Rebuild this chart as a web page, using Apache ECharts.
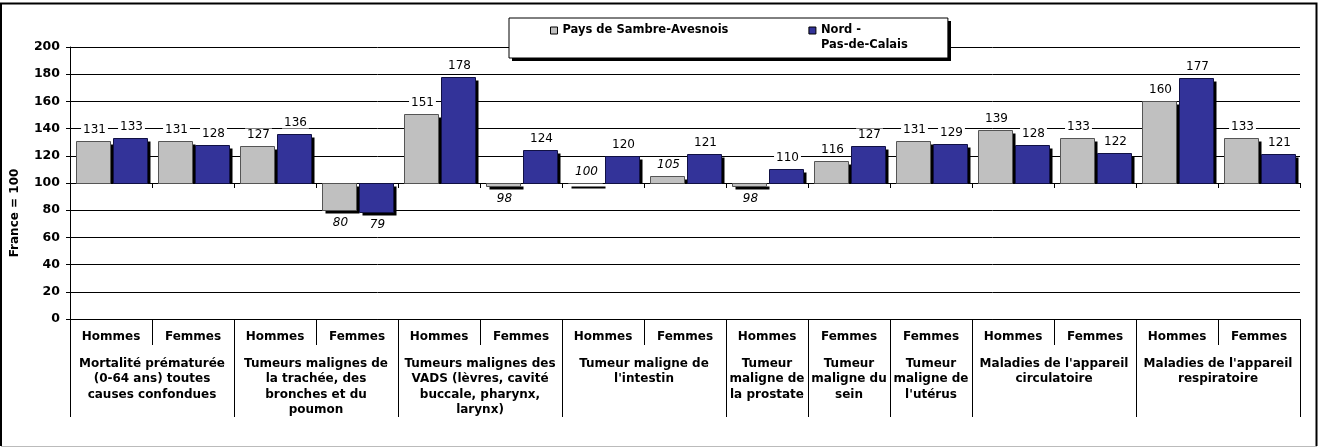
<!DOCTYPE html>
<html>
<head>
<meta charset="utf-8">
<script src="https://cdn.jsdelivr.net/npm/echarts@6/dist/echarts.min.js"></script>
<style>
html,body{margin:0;padding:0;background:#fff;}
#chart{width:1319px;height:448px;}
</style>
</head>
<body>
<div id="chart"></div>
<script>
// ---- data ----
const slotLabels = ['Hommes','Femmes','Hommes','Femmes','Hommes','Femmes','Hommes','Femmes','Hommes','Femmes','Femmes','Hommes','Femmes','Hommes','Femmes'];
const groupLabels = [
  'Mortalité prématurée\n(0-64 ans) toutes\ncauses confondues',
  'Tumeurs malignes de\nla trachée, des\nbronches et du\npoumon',
  'Tumeurs malignes des\nVADS (lèvres, cavité\nbuccale, pharynx,\nlarynx)',
  'Tumeur maligne de\nl\'intestin',
  'Tumeur\nmaligne de\nla prostate',
  'Tumeur\nmaligne du\nsein',
  'Tumeur\nmaligne de\nl\'utérus',
  'Maladies de l\'appareil\ncirculatoire',
  'Maladies de l\'appareil\nrespiratoire'
];
const groupSizes = [2,2,2,2,1,1,1,2,2];
const seriesNames = ['Pays de Sambre-Avesnois','Nord - Pas-de-Calais'];
const legendLabels = ['Pays de Sambre-Avesnois','Nord -\nPas-de-Calais'];
const paysValues = [131,131,127,80,151,98,100,105,98,116,131,139,133,160,133];
const npdcValues = [133,128,136,79,178,124,120,121,110,127,129,128,122,177,121];
const paysNonSignif = [0,0,0,1,0,1,1,1,1,0,0,0,0,0,0];
const npdcNonSignif = [0,0,0,1,0,0,0,0,0,0,0,0,0,0,0];
const yMin = 0, yMax = 200, yStep = 20;
const baseline = 100;
const yTitle = 'France = 100';

// ---- derived layout helpers ----
const groupBounds = [0];
groupSizes.forEach(s => groupBounds.push(groupBounds[groupBounds.length-1] + s));
const groupCenters = groupSizes.map((s,i) => groupBounds[i] + s/2);

const FONT = '"DejaVu Sans", Verdana, sans-serif';
const GREY = '#C0C0C0', BLUE = '#333399';

function makeRender(offsetFrac, color, stroke, values, italics) {
  return function (params, api) {
    const i = api.value(0), v = api.value(1);
    const band = api.size([1, 0])[0];
    const c = api.coord([i, baseline]);
    const e = api.coord([i, v]);
    const w = Math.round(band * 34 / 82);
    const x = Math.round(c[0] + band * offsetFrac) + 0.5;
    const y0 = Math.round(c[1]) + 0.5, y1 = Math.round(e[1]) + 0.5;
    const top = Math.min(y0, y1), h = Math.abs(y1 - y0);
    const up = values[params.dataIndex] >= baseline;
    const italic = italics[params.dataIndex];
    const shadow = up
      ? {x: x + 3, y: top + 3, width: w, height: Math.max(h - 3, 0) + (h === 0 ? 2 : 0)}
      : {x: x + 3, y: top + 3, width: w, height: h};
    return {
      type: 'group',
      children: [
        {type: 'rect', shape: shadow, style: {fill: '#000'}},
        {type: 'rect', shape: {x: x, y: top, width: w, height: h}, style: {fill: color, stroke: stroke, lineWidth: 1}},
        {type: 'text', z2: 10, style: {
          text: String(values[params.dataIndex]),
          x: x + w / 2 + 1, y: up ? top - 12 : top + h + 12,
          align: 'center', verticalAlign: 'middle',
          font: (italic ? 'italic ' : '') + '12px ' + FONT,
          fill: '#000', backgroundColor: '#fff', padding: [0, 2]
        }}
      ]
    };
  };
}

const chart = echarts.init(document.getElementById('chart'), null, {renderer: 'canvas'});
const gridPos = {left: 70, right: 19, top: 47, bottom: 129};
const option = {
  animation: false,
  backgroundColor: '#fff',
  grid: [
    Object.assign({}, gridPos),
    Object.assign({}, gridPos),
    {left: 70, right: 19, top: 47, height: 136}
  ],
  legend: {
    z: 10,
    data: seriesNames,
    formatter: n => {
      const t = legendLabels[seriesNames.indexOf(n)];
      return t.indexOf('\n') >= 0 ? t : t + '\n\u00a0';
    },
    left: 509, top: 18,
    padding: [5, 40, 5, 41],
    itemGap: 80, itemWidth: 7, itemHeight: 22,
    icon: 'path://M0,0H7V7H0Z M7,22',
    itemStyle: {borderColor: '#000', borderWidth: 1, shadowBlur: 0, shadowOffsetX: 0, shadowOffsetY: 0, shadowColor: 'transparent'},
    textStyle: {fontFamily: FONT, fontWeight: 'bold', fontSize: 11.5, color: '#000', lineHeight: 15},
    backgroundColor: '#fff', borderColor: '#000', borderWidth: 1,
    selectedMode: false
  },
  xAxis: [
    {
      gridIndex: 0, type: 'category', data: slotLabels, position: 'bottom',
      axisLine: {onZero: false, lineStyle: {color: '#000', width: 1}},
      axisTick: {show: true, interval: 0, length: 26, lineStyle: {color: '#000'}},
      axisLabel: {interval: 0, margin: 12, fontFamily: FONT, fontWeight: 'bold', fontSize: 12, color: '#000'},
      splitLine: {show: false}
    },
    {
      gridIndex: 1, type: 'value', min: 0, max: groupBounds[groupBounds.length-1], position: 'bottom',
      axisLine: {show: false, onZero: false},
      axisTick: {show: true, customValues: groupBounds, length: 98, lineStyle: {color: '#000'}},
      axisLabel: {
        show: true, customValues: groupCenters, margin: 37,
        formatter: v => { const k = groupCenters.indexOf(v); return k >= 0 ? groupLabels[k] : ''; },
        fontFamily: FONT, fontWeight: 'bold', fontSize: 12, color: '#000', lineHeight: 15.5, align: 'center'
      },
      splitLine: {show: false}
    },
    {
      gridIndex: 2, type: 'category', data: slotLabels, position: 'bottom',
      axisLine: {onZero: false, lineStyle: {color: '#000', width: 1}},
      axisTick: {show: true, interval: 0, length: 5, lineStyle: {color: '#000'}},
      axisLabel: {show: false},
      splitLine: {show: false}
    }
  ],
  yAxis: [
    {
      gridIndex: 0, type: 'value', min: yMin, max: yMax, interval: yStep,
      axisLine: {show: true, lineStyle: {color: '#000'}},
      axisTick: {show: true, length: 4, lineStyle: {color: '#000'}},
      axisLabel: {margin: 10, fontFamily: FONT, fontWeight: 'bold', fontSize: 12.5, color: '#000'},
      splitLine: {show: true, lineStyle: {color: '#000', width: 1}}
    },
    {gridIndex: 1, type: 'value', min: 0, max: 1, show: false},
    {gridIndex: 2, type: 'value', min: 0, max: 1, show: false}
  ],
  series: [
    {
      name: seriesNames[0], type: 'custom', xAxisIndex: 0, yAxisIndex: 0, clip: false,
      itemStyle: {color: GREY, borderColor: '#000', borderWidth: 1},
      encode: {x: 0, y: 1},
      data: paysValues.map((v, i) => [i, v]),
      renderItem: makeRender(-35 / 82, GREY, '#555', paysValues, paysNonSignif)
    },
    {
      name: seriesNames[1], type: 'custom', xAxisIndex: 0, yAxisIndex: 0, clip: false,
      itemStyle: {color: BLUE, borderColor: '#000', borderWidth: 1},
      encode: {x: 0, y: 1},
      data: npdcValues.map((v, i) => [i, v]),
      renderItem: makeRender(2 / 82, BLUE, '#111144', npdcValues, npdcNonSignif)
    }
  ],
  graphic: [
    {type: 'rect', z: 5, silent: true, shape: {x: 512, y: 21, width: 439, height: 40}, style: {fill: '#000'}},
    {type: 'text', x: 15, y: 213, rotation: Math.PI / 2, style: {
      text: yTitle, font: 'bold 12px ' + FONT, align: 'center', verticalAlign: 'middle', fill: '#000'}},
    {type: 'polyline', silent: true, shape: {points: [[1, 446], [1, 3.5], [1316.5, 3.5], [1316.5, 446]]},
      style: {stroke: '#000', lineWidth: 2, fill: null}},
    {type: 'line', silent: true, shape: {x1: 1, y1: 446.5, x2: 1317, y2: 446.5},
      style: {stroke: '#bbb', lineWidth: 1}}
  ]
};
chart.setOption(option);
</script>
</body>
</html>
